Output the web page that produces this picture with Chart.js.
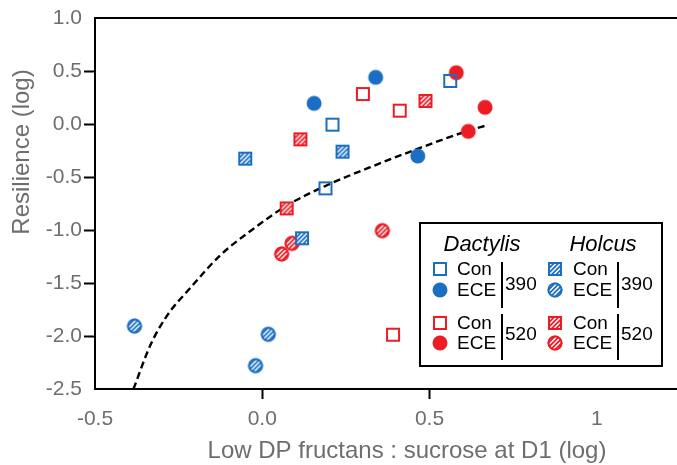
<!DOCTYPE html>
<html>
<head>
<meta charset="utf-8">
<script src="https://cdn.jsdelivr.net/npm/chart.js@4.4.1/dist/chart.umd.min.js"></script>
<style>
  html, body { margin: 0; padding: 0; background: #fff; }
  #wrap { width: 677px; height: 465px; position: relative; }
</style>
</head>
<body>
<div id="wrap"><canvas id="chart"></canvas></div>
<script>
const BLUE = '#1b6ec2';
const RED = '#ec1c24';
const GREY = '#6e6e6e';
const FONT = "'Liberation Sans', Arial, Helvetica, sans-serif";

// Dactylis
const dactCon390X = [0.210, 0.189, 0.562];
const dactCon390Y = [-0.006, -0.607, 0.406];
const dactEce390X = [0.155, 0.339, 0.465];
const dactEce390Y = [0.195, 0.440, -0.302];
const dactCon520X = [0.301, 0.411, 0.391];
const dactCon520Y = [0.283, 0.126, -1.988];
const dactEce520X = [0.580, 0.666, 0.616];
const dactEce520Y = [0.484, 0.157, -0.069];

// Holcus
const holcCon390X = [-0.051, 0.240, 0.119];
const holcCon390Y = [-0.327, -0.261, -1.078];
const holcEce390X = [-0.382, 0.018, -0.020];
const holcEce390Y = [-1.906, -1.984, -2.280];
const holcCon520X = [0.114, 0.488, 0.073];
const holcCon520Y = [-0.145, 0.217, -0.796];
const holcEce520X = [0.359, 0.089, 0.058];
const holcEce520Y = [-1.006, -1.126, -1.226];

// fitted trend (dashed)
const fitX = [-0.385, -0.335, -0.285, -0.216, -0.126, -0.027, 0.073, 0.192, 0.321, 0.460, 0.609, 0.674];
const fitY = [-2.50, -2.09, -1.81, -1.55, -1.24, -0.99, -0.77, -0.58, -0.41, -0.24, -0.07, -0.01];

const xTicks = [-0.5, 0, 0.5, 1];
const xTickLabels = ['-0.5', '0.0', '0.5', '1'];
const yTicks = [-2.5, -2.0, -1.5, -1.0, -0.5, 0.0, 0.5, 1.0];
const yTickLabels = ['-2.5', '-2.0', '-1.5', '-1.0', '-0.5', '0.0', '0.5', '1.0'];

// small canvas markers: open square, filled dot, hatched square, hatched circle
function makeMarker(kind, color) {
  const c = document.createElement('canvas');
  c.width = 18; c.height = 18;
  const g = c.getContext('2d');
  const m = 9;
  if (kind === 'open') {
    g.strokeStyle = color; g.lineWidth = 2;
    g.strokeRect(3, 3, 12, 12);
  } else if (kind === 'dot') {
    g.fillStyle = color;
    g.beginPath(); g.arc(m, m, 7.5, 0, Math.PI * 2); g.fill();
  } else {
    g.save();
    g.beginPath();
    if (kind === 'hsq') g.rect(2, 2, 14, 14); else g.arc(m, m, 7.5, 0, Math.PI * 2);
    g.fillStyle = color; g.fill();
    g.clip();
    g.strokeStyle = '#fff'; g.lineWidth = 1.5;
    for (let k = -9; k <= 9; k += 4.5) {
      g.beginPath(); g.moveTo(k, 18); g.lineTo(k + 18, 0); g.stroke();
    }
    g.restore();
    g.strokeStyle = color; g.lineWidth = 2;
    g.beginPath();
    if (kind === 'hsq') g.rect(3, 3, 12, 12); else g.arc(m, m, 6.5, 0, Math.PI * 2);
    g.stroke();
  }
  return c;
}

const mk = {
  dCon390: makeMarker('open', BLUE),
  dEce390: makeMarker('dot', BLUE),
  dCon520: makeMarker('open', RED),
  dEce520: makeMarker('dot', RED),
  hCon390: makeMarker('hsq', BLUE),
  hEce390: makeMarker('hcirc', BLUE),
  hCon520: makeMarker('hsq', RED),
  hEce520: makeMarker('hcirc', RED)
};

function series(label, xs, ys, marker) {
  return {
    label,
    data: xs.map((x, i) => ({ x, y: ys[i] })),
    pointStyle: marker,
    pointRadius: 9,
    showLine: false
  };
}

const fitSet = {
  label: 'fit',
  data: fitX.map((x, i) => ({ x, y: fitY[i] })),
  showLine: true,
  pointRadius: 0,
  borderColor: '#000',
  borderWidth: 2.4,
  borderDash: [7, 4],
  cubicInterpolationMode: 'monotone',
  fill: false
};

const edgeTick = (vals) => (c) =>
  (c.tick && (c.tick.value === vals[0] || c.tick.value === vals[vals.length - 1])) ? 'rgba(0,0,0,0)' : '#000';

// frame lines out to the edge, axis titles and the two-species legend
const decor = {
  id: 'decor',
  afterDraw(chart) {
    const ctx = chart.ctx;
    const a = chart.chartArea;
    ctx.save();
    ctx.strokeStyle = '#000';
    ctx.lineWidth = 2;
    ctx.beginPath();
    ctx.moveTo(a.left - 1, a.top);
    ctx.lineTo(chart.width, a.top);
    ctx.moveTo(a.right - 2, a.bottom);
    ctx.lineTo(chart.width, a.bottom);
    ctx.stroke();

    ctx.fillStyle = GREY;
    ctx.font = '24px ' + FONT;
    ctx.textAlign = 'center';
    ctx.textBaseline = 'middle';
    ctx.fillText('Low DP fructans : sucrose at D1 (log)', 407, 451);
    ctx.save();
    ctx.translate(22, 152);
    ctx.rotate(-Math.PI / 2);
    ctx.fillText('Resilience (log)', 0, 0);
    ctx.restore();

    // legend box
    ctx.fillStyle = '#fff';
    ctx.fillRect(420, 223, 242, 143);
    ctx.strokeStyle = '#000';
    ctx.lineWidth = 2;
    ctx.strokeRect(420, 223, 242, 143);

    ctx.fillStyle = '#000';
    ctx.font = 'italic 22px ' + FONT;
    ctx.textAlign = 'center';
    ctx.fillText('Dactylis', 482, 245);
    ctx.fillText('Holcus', 603, 245);

    const rows = [269, 290, 323, 343];
    const cols = [
      { mx: 440, tx: 457, lx: 502, m: [mk.dCon390, mk.dEce390, mk.dCon520, mk.dEce520] },
      { mx: 555, tx: 573, lx: 618, m: [mk.hCon390, mk.hEce390, mk.hCon520, mk.hEce520] }
    ];
    const names = ['Con', 'ECE', 'Con', 'ECE'];
    ctx.font = '19px ' + FONT;
    ctx.textAlign = 'left';
    cols.forEach(col => {
      rows.forEach((ry, i) => {
        ctx.drawImage(col.m[i], col.mx - 9, ry - 9);
        ctx.fillText(names[i], col.tx, ry + 1);
      });
      ctx.lineWidth = 2;
      ctx.beginPath();
      ctx.moveTo(col.lx, 262); ctx.lineTo(col.lx, 308);
      ctx.moveTo(col.lx, 314); ctx.lineTo(col.lx, 360);
      ctx.stroke();
      ctx.fillText('390', col.lx + 3, 285);
      ctx.fillText('520', col.lx + 3, 335);
    });
    ctx.restore();
  }
};

new Chart(document.getElementById('chart'), {
  type: 'scatter',
  data: {
    datasets: [
      series('Dactylis Con 390', dactCon390X, dactCon390Y, mk.dCon390),
      series('Dactylis ECE 390', dactEce390X, dactEce390Y, mk.dEce390),
      series('Dactylis Con 520', dactCon520X, dactCon520Y, mk.dCon520),
      series('Dactylis ECE 520', dactEce520X, dactEce520Y, mk.dEce520),
      series('Holcus Con 390', holcCon390X, holcCon390Y, mk.hCon390),
      series('Holcus ECE 390', holcEce390X, holcEce390Y, mk.hEce390),
      series('Holcus Con 520', holcCon520X, holcCon520Y, mk.hCon520),
      series('Holcus ECE 520', holcEce520X, holcEce520Y, mk.hEce520),
      fitSet
    ]
  },
  options: {
    responsive: true,
    maintainAspectRatio: false,
    animation: false,
    events: [],
    layout: { padding: { top: 18, right: 0, left: 0, bottom: 0 } },
    plugins: { legend: { display: false }, tooltip: { enabled: false } },
    scales: {
      x: {
        type: 'linear',
        min: -0.5,
        max: 1.21,
        afterBuildTicks: s => { s.ticks = xTicks.map(v => ({ value: v })); },
        afterFit: s => { s.height = 76; },
        ticks: {
          callback: (v) => xTickLabels[xTicks.indexOf(v)],
          color: GREY,
          font: { family: FONT, size: 21 },
          padding: 8,
          maxRotation: 0
        },
        grid: { drawOnChartArea: false, tickLength: 10, tickWidth: 2, tickColor: edgeTick(xTicks) },
        border: { color: '#000', width: 2 }
      },
      y: {
        type: 'linear',
        min: -2.5,
        max: 1.0,
        afterBuildTicks: s => { s.ticks = yTicks.map(v => ({ value: v })); },
        afterFit: s => { s.width = 95; },
        ticks: {
          callback: (v) => yTickLabels[yTicks.indexOf(v)],
          color: GREY,
          font: { family: FONT, size: 21 },
          padding: 2
        },
        grid: { drawOnChartArea: false, tickLength: 11, tickWidth: 2, tickColor: edgeTick(yTicks) },
        border: { color: '#000', width: 2 }
      }
    }
  },
  plugins: [decor]
});
</script>
</body>
</html>
